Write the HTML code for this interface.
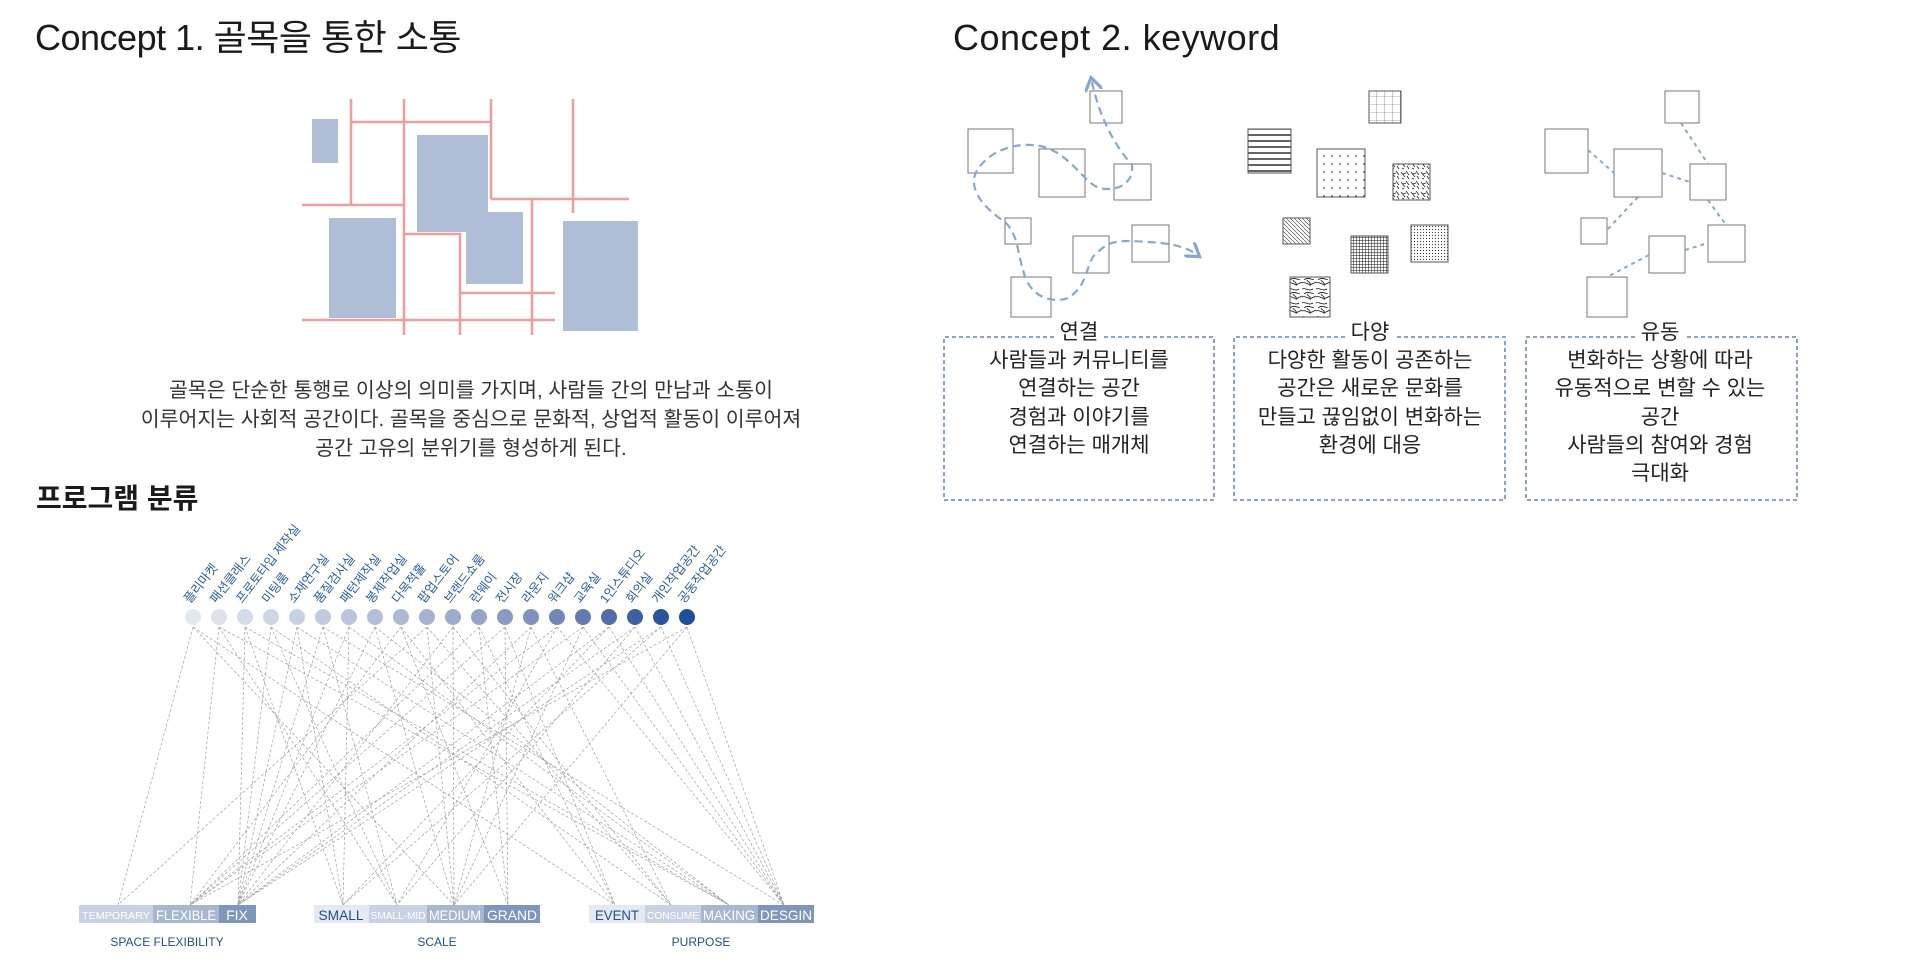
<!DOCTYPE html>
<html><head><meta charset="utf-8"><style>
body{margin:0;background:#fff;width:1921px;height:970px;overflow:hidden;font-family:"Liberation Sans","Noto Sans CJK KR",sans-serif;}
svg{position:absolute;left:0;top:0}
</style></head><body>
<svg width="1921" height="970" viewBox="0 0 1921 970" xmlns="http://www.w3.org/2000/svg" font-family="Liberation Sans, Noto Sans CJK KR, sans-serif">
<defs>
<pattern id="pgrid" width="8" height="8" patternUnits="userSpaceOnUse"><path d="M0 0H8M0 0V8" stroke="#555" stroke-width="0.6" fill="none"/></pattern>
<pattern id="phl" width="6" height="6" patternUnits="userSpaceOnUse"><path d="M0 3H6" stroke="#222" stroke-width="1.4"/></pattern>
<pattern id="pdot" width="8" height="8" patternUnits="userSpaceOnUse"><circle cx="4" cy="4" r="0.8" fill="#222"/></pattern>
<pattern id="psq" width="10" height="10" patternUnits="userSpaceOnUse"><path d="M1 2L5 7M6 1L9 5M2 8L4 9M7 6L9 9M3 4L6 3" stroke="#222" stroke-width="0.8"/></pattern>
<pattern id="pdiag" width="4" height="4" patternUnits="userSpaceOnUse"><path d="M0 0L4 4" stroke="#333" stroke-width="0.6"/></pattern>
<pattern id="pdense" width="3" height="3" patternUnits="userSpaceOnUse"><path d="M0 0H3M0 0V3" stroke="#111" stroke-width="1"/></pattern>
<pattern id="pfine" width="3" height="3" patternUnits="userSpaceOnUse"><circle cx="1.5" cy="1.5" r="0.6" fill="#333"/></pattern>
<pattern id="pmarb" width="14" height="14" patternUnits="userSpaceOnUse"><path d="M0 3C4 1 6 6 10 4S14 2 14 2M0 9C3 7 7 12 11 9M2 14C5 11 9 13 12 14M5 0C6 3 9 1 8 6" stroke="#111" stroke-width="0.8" fill="none"/></pattern>
<marker id="arr" markerWidth="8" markerHeight="8" refX="4" refY="4" orient="auto-start-reverse"><path d="M0 0L6 4L0 8" fill="none" stroke="#8aa8cc" stroke-width="1.5"/></marker>
</defs>

<!-- Titles -->
<text x="35" y="50" font-size="36" fill="#1a1a1a" letter-spacing="-0.5">Concept 1. 골목을 통한 소통</text>
<text x="953" y="50" font-size="36" fill="#1a1a1a" letter-spacing="0.5">Concept 2. keyword</text>

<!-- Map -->
<g fill="#b0bdd6">
<rect x="312" y="119" width="26" height="44"/>
<rect x="329" y="218" width="67" height="100"/>
<rect x="417" y="135" width="71" height="97"/>
<rect x="466" y="212" width="57" height="72"/>
<rect x="563" y="221" width="75" height="110"/>
</g>
<g stroke="#e8a0a0" stroke-width="2.6" fill="none">
<path d="M351 99V205M404 99V335M491 99V199M573 99V213M351 122H491M302 205H404M491 199H629M532 199V335M404 234H460V335M460 293H555M302 320H555"/>
</g>
<g font-size="20.5" fill="#333" text-anchor="middle">
<text x="471" y="397">골목은 단순한 통행로 이상의 의미를 가지며, 사람들 간의 만남과 소통이</text>
<text x="471" y="426">이루어지는 사회적 공간이다. 골목을 중심으로 문화적, 상업적 활동이 이루어져</text>
<text x="471" y="455">공간 고유의 분위기를 형성하게 된다.</text>
</g>

<text x="36" y="508" font-size="28" font-weight="bold" fill="#1a1a1a">프로그램 분류</text>

<!-- connection lines -->
<g stroke="#a0a0a0" stroke-width="0.7" stroke-dasharray="3,2" fill="none">
<path d="M193 627L118 905M193 627L454 905M193 627L615 905
M219 627L190 905M219 627L397 905M219 627L729 905
M245 627L238 905M245 627L343 905M245 627L729 905
M271 627L238 905M271 627L397 905M271 627L671 905
M297 627L238 905M297 627L343 905M297 627L729 905
M323 627L238 905M323 627L397 905M323 627L784 905
M349 627L238 905M349 627L343 905M349 627L729 905
M375 627L238 905M375 627L454 905M375 627L729 905
M401 627L190 905M401 627L508 905M401 627L615 905
M427 627L118 905M427 627L454 905M427 627L671 905
M453 627L238 905M453 627L454 905M453 627L671 905
M479 627L190 905M479 627L508 905M479 627L615 905
M505 627L190 905M505 627L508 905M505 627L615 905
M531 627L238 905M531 627L454 905M531 627L671 905
M557 627L190 905M557 627L397 905M557 627L784 905
M583 627L190 905M583 627L454 905M583 627L784 905
M609 627L238 905M609 627L343 905M609 627L784 905
M635 627L238 905M635 627L397 905M635 627L784 905
M661 627L238 905M661 627L343 905M661 627L784 905
M687 627L190 905M687 627L454 905M687 627L784 905"/>
</g>

<!-- dots -->
<g>
<circle cx="193" cy="617" r="8" fill="rgb(227,231,240)"/>
<circle cx="219" cy="617" r="8" fill="rgb(220,225,236)"/>
<circle cx="245" cy="617" r="8" fill="rgb(213,219,233)"/>
<circle cx="271" cy="617" r="8" fill="rgb(206,214,230)"/>
<circle cx="297" cy="617" r="8" fill="rgb(200,209,227)"/>
<circle cx="323" cy="617" r="8" fill="rgb(193,203,224)"/>
<circle cx="349" cy="617" r="8" fill="rgb(186,197,220)"/>
<circle cx="375" cy="617" r="8" fill="rgb(179,191,216)"/>
<circle cx="401" cy="617" r="8" fill="rgb(172,185,212)"/>
<circle cx="427" cy="617" r="8" fill="rgb(165,179,208)"/>
<circle cx="453" cy="617" r="8" fill="rgb(158,172,204)"/>
<circle cx="479" cy="617" r="8" fill="rgb(149,164,200)"/>
<circle cx="505" cy="617" r="8" fill="rgb(138,155,195)"/>
<circle cx="531" cy="617" r="8" fill="rgb(127,145,190)"/>
<circle cx="557" cy="617" r="8" fill="rgb(114,134,184)"/>
<circle cx="583" cy="617" r="8" fill="rgb(99,121,177)"/>
<circle cx="609" cy="617" r="8" fill="rgb(82,107,170)"/>
<circle cx="635" cy="617" r="8" fill="rgb(64,95,163)"/>
<circle cx="661" cy="617" r="8" fill="rgb(44,84,156)"/>
<circle cx="687" cy="617" r="8" fill="rgb(28,79,151)"/>
</g>
<g font-size="12.5" fill="#2b5a9c">
<text transform="translate(190,604) rotate(-52)">플리마켓</text>
<text transform="translate(216,604) rotate(-52)">패션클래스</text>
<text transform="translate(242,604) rotate(-52)">프로토타입 제작실</text>
<text transform="translate(268,604) rotate(-52)">미팅룸</text>
<text transform="translate(294,604) rotate(-52)">소재연구실</text>
<text transform="translate(320,604) rotate(-52)">품질검사실</text>
<text transform="translate(346,604) rotate(-52)">패턴제작실</text>
<text transform="translate(372,604) rotate(-52)">봉제작업실</text>
<text transform="translate(398,604) rotate(-52)">다목적홀</text>
<text transform="translate(424,604) rotate(-52)">팝업스토어</text>
<text transform="translate(450,604) rotate(-52)">브랜드쇼룸</text>
<text transform="translate(476,604) rotate(-52)">런웨이</text>
<text transform="translate(502,604) rotate(-52)">전시장</text>
<text transform="translate(528,604) rotate(-52)">라운지</text>
<text transform="translate(554,604) rotate(-52)">워크샵</text>
<text transform="translate(580,604) rotate(-52)">교육실</text>
<text transform="translate(606,604) rotate(-52)">1인스튜디오</text>
<text transform="translate(632,604) rotate(-52)">회의실</text>
<text transform="translate(658,604) rotate(-52)">개인작업공간</text>
<text transform="translate(684,604) rotate(-52)">공동작업공간</text>
</g>

<!-- bars -->
<g>
<rect x="79" y="905" width="74" height="18" fill="#c9d2e3"/>
<rect x="153" y="905" width="66" height="18" fill="#a8b7d0"/>
<rect x="219" y="905" width="37" height="18" fill="#7f96bb"/>
<rect x="314" y="905" width="55" height="18" fill="#e5e9f1"/>
<rect x="369" y="905" width="58" height="18" fill="#c9d2e3"/>
<rect x="427" y="905" width="57" height="18" fill="#a8b7d0"/>
<rect x="484" y="905" width="56" height="18" fill="#7f96bb"/>
<rect x="589" y="905" width="56" height="18" fill="#e5e9f1"/>
<rect x="645" y="905" width="56" height="18" fill="#c9d2e3"/>
<rect x="701" y="905" width="57" height="18" fill="#a8b7d0"/>
<rect x="758" y="905" width="56" height="18" fill="#7f96bb"/>
</g>
<g text-anchor="middle" fill="#fff">
<text x="116" y="919" font-size="10" textLength="68" lengthAdjust="spacingAndGlyphs">TEMPORARY</text>
<text x="186" y="920" font-size="14" textLength="60" lengthAdjust="spacingAndGlyphs">FLEXIBLE</text>
<text x="237" y="920" font-size="14">FIX</text>
<text x="341" y="920" font-size="14" fill="#1f4e8a" textLength="45" lengthAdjust="spacingAndGlyphs">SMALL</text>
<text x="398" y="919" font-size="10" textLength="55" lengthAdjust="spacingAndGlyphs">SMALL-MID</text>
<text x="455" y="920" font-size="14" textLength="52" lengthAdjust="spacingAndGlyphs">MEDIUM</text>
<text x="512" y="920" font-size="14" textLength="50" lengthAdjust="spacingAndGlyphs">GRAND</text>
<text x="617" y="920" font-size="14" fill="#1f4e8a" textLength="44" lengthAdjust="spacingAndGlyphs">EVENT</text>
<text x="673" y="919" font-size="10" textLength="52" lengthAdjust="spacingAndGlyphs">CONSUME</text>
<text x="729" y="920" font-size="14" textLength="52" lengthAdjust="spacingAndGlyphs">MAKING</text>
<text x="786" y="920" font-size="14" textLength="52" lengthAdjust="spacingAndGlyphs">DESGIN</text>
</g>
<g text-anchor="middle" fill="#1f4e8a" font-size="12">
<text x="167" y="946">SPACE FLEXIBILITY</text>
<text x="437" y="946">SCALE</text>
<text x="701" y="946">PURPOSE</text>
</g>

<!-- Concept 2 group 1 -->
<g fill="#fff" stroke="#777" stroke-width="1">
<rect x="968" y="129" width="45" height="44"/>
<rect x="1090" y="91" width="32" height="32"/>
<rect x="1039" y="149" width="46" height="48"/>
<rect x="1114" y="164" width="37" height="36"/>
<rect x="1005" y="218" width="26" height="26"/>
<rect x="1073" y="236" width="36" height="37"/>
<rect x="1132" y="225" width="37" height="37"/>
<rect x="1011" y="277" width="40" height="40"/>
</g>
<path d="M1092 82C1098 110 1110 140 1132 165C1134 185 1115 192 1100 188C1085 185 1070 152 1040 146C1020 142 990 148 976 172C966 195 995 215 1006 223C1018 235 1018 255 1023 270C1030 300 1055 303 1068 298C1090 285 1085 260 1098 252C1110 240 1120 240 1148 242C1168 243 1185 246 1196 254" fill="none" stroke="#8aa8cc" stroke-width="2.2" stroke-dasharray="8,5" marker-end="url(#arr)" marker-start="url(#arr)"/>

<!-- group 2 -->
<g stroke="#555" stroke-width="1">
<rect x="1369" y="91" width="32" height="32" fill="url(#pgrid)"/>
<rect x="1248" y="129" width="43" height="44" fill="url(#phl)"/>
<rect x="1317" y="149" width="48" height="48" fill="url(#pdot)"/>
<rect x="1393" y="164" width="37" height="36" fill="url(#psq)"/>
<rect x="1283" y="218" width="27" height="26" fill="url(#pdiag)"/>
<rect x="1351" y="236" width="37" height="37" fill="url(#pdense)"/>
<rect x="1411" y="225" width="37" height="37" fill="url(#pfine)"/>
<rect x="1290" y="277" width="40" height="40" fill="url(#pmarb)"/>
</g>

<!-- group 3 -->
<g fill="#fff" stroke="#777" stroke-width="1">
<rect x="1665" y="91" width="34" height="32"/>
<rect x="1545" y="129" width="43" height="44"/>
<rect x="1614" y="149" width="48" height="48"/>
<rect x="1690" y="164" width="36" height="36"/>
<rect x="1581" y="218" width="26" height="26"/>
<rect x="1649" y="236" width="36" height="37"/>
<rect x="1708" y="225" width="37" height="37"/>
<rect x="1587" y="277" width="40" height="40"/>
</g>
<g stroke="#8aa8cc" stroke-width="2" stroke-dasharray="4,4" fill="none">
<path d="M1588 150L1614 173M1681 123L1708 164M1662 173L1690 182M1638 197L1607 230M1708 200L1726 225M1685 250L1708 243M1649 255L1607 277"/>
</g>

<!-- keyword boxes -->
<g fill="none" stroke="#7f96bb" stroke-width="1.8" stroke-dasharray="4,3">
<path d="M1054 337H944V500H1214V337H1104"/>
<path d="M1345 337H1234V500H1505V337H1395"/>
<path d="M1635 337H1526V500H1797V337H1685"/>
</g>
<g font-size="21" fill="#222" text-anchor="middle">
<text x="1079" y="339">연결</text>
<text x="1370" y="339">다양</text>
<text x="1660" y="339">유동</text>
<text x="1079" y="367">사람들과 커뮤니티를</text>
<text x="1079" y="395">연결하는 공간</text>
<text x="1079" y="424">경험과 이야기를</text>
<text x="1079" y="452">연결하는 매개체</text>
<text x="1370" y="367">다양한 활동이 공존하는</text>
<text x="1370" y="395">공간은 새로운 문화를</text>
<text x="1370" y="424">만들고 끊임없이 변화하는</text>
<text x="1370" y="452">환경에 대응</text>
<text x="1660" y="367">변화하는 상황에 따라</text>
<text x="1660" y="395">유동적으로 변할 수 있는</text>
<text x="1660" y="424">공간</text>
<text x="1660" y="452">사람들의 참여와 경험</text>
<text x="1660" y="480">극대화</text>
</g>
</svg>
</body></html>
